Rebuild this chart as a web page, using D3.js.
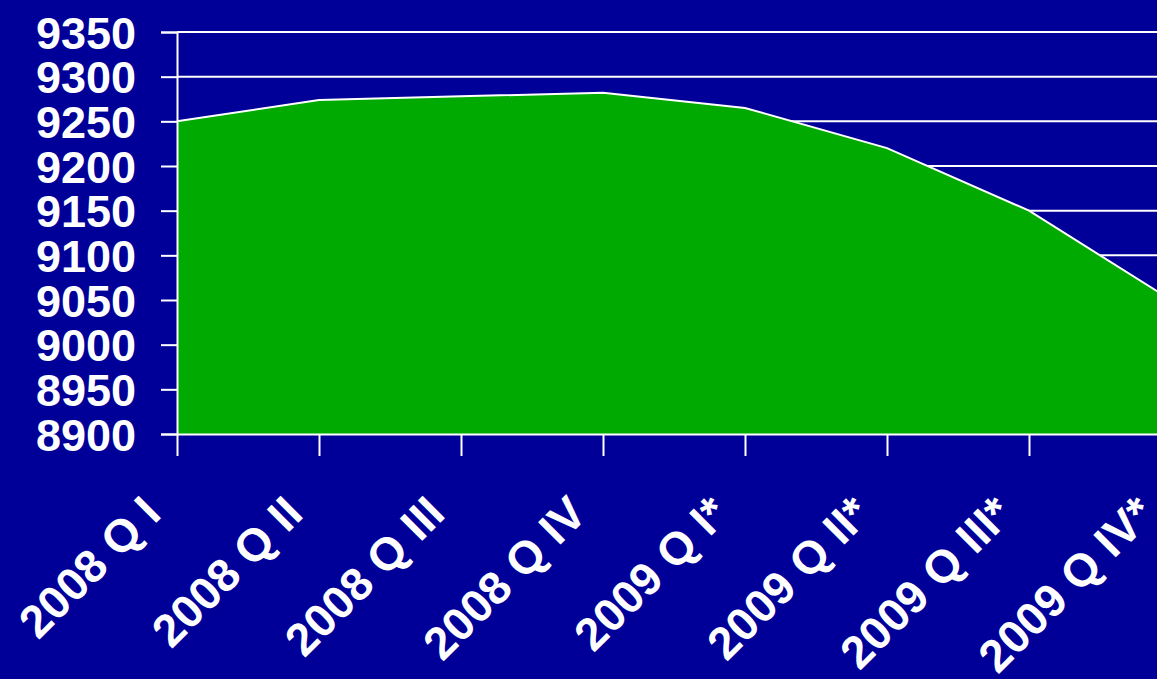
<!DOCTYPE html>
<html>
<head>
<meta charset="utf-8">
<script src="https://cdn.jsdelivr.net/npm/d3@7"></script>
<style>
  body { margin: 0; background: #000099; }
  text { font-family: "Liberation Sans", Arial, sans-serif; font-weight: bold; fill: #fff; }
</style>
</head>
<body>
<div id="chart"></div>
<script>
// quarters and values
var quarters = ["2008 Q I", "2008 Q II", "2008 Q III", "2008 Q IV",
                "2009 Q I*", "2009 Q II*", "2009 Q III*", "2009 Q IV*"];
var values = [9250, 9274, 9278, 9282, 9265, 9220, 9150, 9050];
var yTicks = [8900, 8950, 9000, 9050, 9100, 9150, 9200, 9250, 9300, 9350];

var width = 1157, height = 679;

var svg = d3.select("#chart")
  .append("svg")
  .attr("width", width)
  .attr("height", height)
  .style("display", "block");

svg.append("rect")
  .attr("width", width)
  .attr("height", height)
  .attr("fill", "#000099");

// x: points on the ticks, 142px apart (last one falls off the page)
var x = d3.scalePoint()
  .domain(quarters)
  .range([177, 177 + 142 * 7]);

var y = d3.scaleLinear()
  .domain([8900, 9350])
  .range([434, 32]);

// gridlines
svg.append("g")
  .selectAll("line")
  .data(yTicks)
  .enter()
  .append("line")
    .attr("x1", 177)
    .attr("x2", x.range()[1])
    .attr("y1", function(d){ return y(d) })
    .attr("y2", function(d){ return y(d) })
    .attr("stroke", "#fff")
    .attr("stroke-width", 2);

// the area
var area = d3.area()
  .x(function(d, i){ return x(quarters[i]) })
  .y0(y(8900))
  .y1(function(d){ return y(d) });

var line = d3.line()
  .x(function(d, i){ return x(quarters[i]) })
  .y(function(d){ return y(d) });

svg.append("path")
  .datum(values)
  .attr("d", area)
  .attr("fill", "#00AA00");

svg.append("path")
  .datum(values)
  .attr("d", line)
  .attr("fill", "none")
  .attr("stroke", "#fff")
  .attr("stroke-width", 2);

// y axis
var yAxis = svg.append("g")
  .attr("transform", "translate(177,0)")
  .call(d3.axisLeft(y).tickValues(yTicks).tickSize(16).tickPadding(25).tickFormat(d3.format("d")));
yAxis.select(".domain").attr("stroke", "#fff").attr("stroke-width", 2);
yAxis.selectAll(".tick line").attr("stroke", "#fff").attr("stroke-width", 2);
yAxis.selectAll(".tick text")
  .attr("fill", "#fff")
  .style("font-size", "45px")
  .attr("dy", "0.36em");

// x axis
var xAxis = svg.append("g")
  .attr("transform", "translate(0," + y(8900) + ")")
  .call(d3.axisBottom(x).tickSize(22).tickSizeOuter(0).tickFormat(""));
xAxis.select(".domain").attr("stroke", "#fff").attr("stroke-width", 2);
xAxis.selectAll(".tick line").attr("stroke", "#fff").attr("stroke-width", 2);

// rotated category labels
svg.append("g")
  .selectAll("text")
  .data(quarters)
  .enter()
  .append("text")
    .attr("text-anchor", "end")
    .attr("transform", function(d){
      return "translate(" + (x(d) - 14) + ",516) rotate(-45)";
    })
    .style("font-size", "46px")
    .text(function(d){ return d });
</script>
</body>
</html>
